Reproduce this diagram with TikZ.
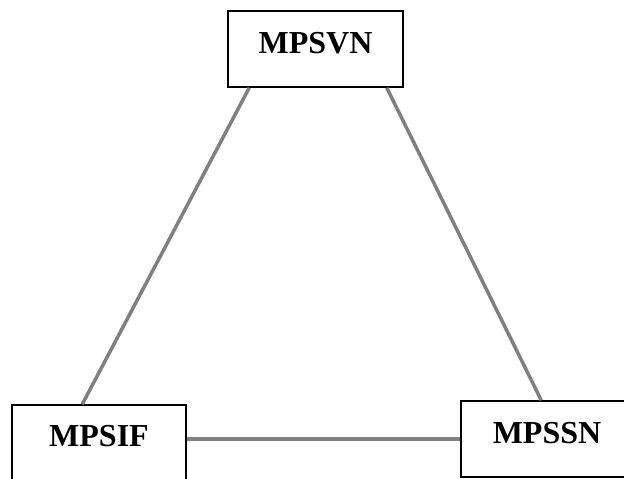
\documentclass[tikz,border=0pt]{standalone}
\usepackage{fontspec}
\setmainfont{Liberation Serif}
\definecolor{linegray}{RGB}{128,128,128}
\begin{document}
\begin{tikzpicture}[x=1pt,y=1pt,
  boxnode/.style={draw=black, line width=1.5pt, fill=white, inner sep=0pt, anchor=base,
    font=\fontsize{32}{36}\selectfont\bfseries},
  link/.style={draw=linegray, line width=3.5pt}]
\useasboundingbox (0,0) rectangle (624,-479);
\clip (0,0) rectangle (624,-479);
\node[boxnode, minimum width=175pt, text height=42pt, text depth=34pt] (svn) at (315.5,-53) {MPSVN};
\node[boxnode, minimum width=174pt, text height=41pt, text depth=37pt] (sif) at (99,-446) {MPSIF};
\node[boxnode, minimum width=172pt, text height=42pt, text depth=34pt] (ssn) at (547,-443) {MPSSN};
\draw[link] ([xshift=22pt]svn.south west) -- ([xshift=71pt]sif.north west);
\draw[link] ([xshift=-17pt]svn.south east) -- ([xshift=81pt]ssn.north west);
\draw[link] (sif.east |- ssn.west) -- (ssn.west);
\end{tikzpicture}
\end{document}
